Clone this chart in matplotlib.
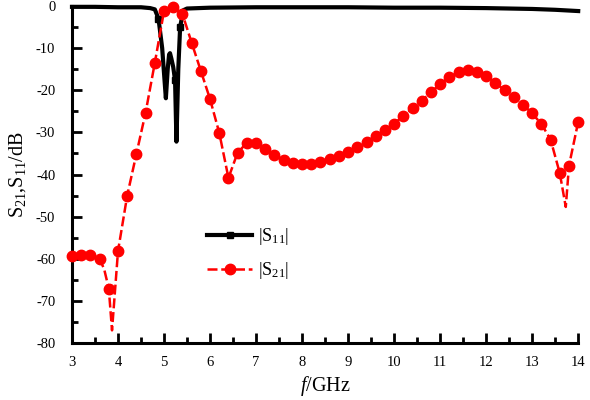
import matplotlib
matplotlib.use('Agg')
import matplotlib.pyplot as plt
from matplotlib.ticker import MultipleLocator

plt.rcParams['font.family'] = ['Liberation Serif', 'DejaVu Serif']
plt.rcParams['mathtext.fontset'] = 'custom'
plt.rcParams['mathtext.rm'] = 'Liberation Serif'
plt.rcParams['mathtext.it'] = 'Liberation Serif:italic'
plt.rcParams['axes.unicode_minus'] = False

# |S11| (black, squares)
s11_f = [3.0, 3.5, 4.0, 4.5, 4.7, 4.8, 4.88, 4.96, 5.04, 5.08, 5.11, 5.13, 5.16, 5.2,
         5.24, 5.27, 5.31, 5.35, 5.42, 5.5, 6.0, 7.0, 8.0, 9.0, 10.0, 11.0, 12.0, 12.5,
         13.0, 13.5, 14.0]
s11_db = [-0.2, -0.2, -0.3, -0.3, -0.5, -0.8, -3.0, -10.0, -21.9, -15.0, -11.5, -11.2, -12.5, -14.5,
          -17.6, -32.2, -15.0, -5.0, -1.0, -0.6, -0.4, -0.3, -0.3, -0.3, -0.4, -0.4, -0.5, -0.6,
          -0.7, -0.9, -1.2]
s11_marks = [6, 14, 17]

# |S21| (red, circles)
s21_f = [3.0, 3.2, 3.4, 3.6, 3.7, 3.8, 3.87, 4.0, 4.2, 4.4, 4.6, 4.8, 5.0, 5.2, 5.4, 5.6,
         5.8, 6.0, 6.2, 6.4, 6.6, 6.8, 7.0, 7.2, 7.4, 7.6, 7.8, 8.0, 8.2, 8.4, 8.6, 8.8,
         9.0, 9.2, 9.4, 9.6, 9.8, 10.0, 10.2, 10.4, 10.6, 10.8, 11.0, 11.2, 11.4, 11.6,
         11.8, 12.0, 12.2, 12.4, 12.6, 12.8, 13.0, 13.2, 13.4, 13.6, 13.73, 13.8, 14.0]
s21_db = [-59.4, -59.2, -59.1, -60.0, -62.5, -67.1, -77.0, -58.2, -45.0, -35.1, -25.3, -13.5,
          -1.2, -0.3, -1.9, -8.7, -15.4, -22.1, -30.1, -40.8, -34.8, -32.5, -32.6, -34.0,
          -35.4, -36.6, -37.3, -37.6, -37.5, -37.0, -36.4, -35.5, -34.6, -33.4, -32.2,
          -30.9, -29.5, -27.9, -26.1, -24.3, -22.5, -20.5, -18.5, -16.9, -15.7, -15.3,
          -15.7, -16.6, -18.2, -20.0, -21.6, -23.4, -25.5, -28.0, -31.7, -39.7, -47.7,
          -37.9, -27.5]
s21_no_mark = [3.7, 3.87, 13.73]
s21_marks = [i for i, f in enumerate(s21_f) if f not in s21_no_mark]

fig = plt.figure(figsize=(5.9, 4.0), dpi=100)
ax = fig.add_axes([0.122, 0.1425, 0.858, 0.8425])

ax.plot(s11_f, s11_db, color='black', lw=3.0, marker='s', markersize=5,
        markevery=s11_marks, clip_on=False, zorder=3, label='|S$_{11}$|')
ax.plot(s21_f, s21_db, color='red', lw=1.8, linestyle=(0, (4, 1.5)), marker='o',
        markersize=7.5, markevery=s21_marks, clip_on=False, zorder=4, label='|S$_{21}$|')

ax.set_xlim(3, 14)
ax.set_ylim(-80, 0)
ax.xaxis.set_major_locator(MultipleLocator(1))
ax.xaxis.set_minor_locator(MultipleLocator(0.5))
ax.yaxis.set_major_locator(MultipleLocator(10))
ax.yaxis.set_minor_locator(MultipleLocator(5))

ax.spines['top'].set_visible(False)
ax.spines['right'].set_visible(False)
ax.spines['left'].set_linewidth(2.2)
ax.spines['bottom'].set_linewidth(2.2)
ax.tick_params(which='major', direction='in', length=7, width=2, labelsize=10.5)
ax.tick_params(axis='x', which='major', pad=9)
ax.tick_params(axis='y', which='major', pad=12)
ax.tick_params(which='minor', direction='in', length=4, width=2)
ax.tick_params(axis='y', which='both', right=False)
ax.tick_params(axis='x', which='both', top=False)

ax.set_xlabel('$f$/GHz', fontsize=14.5, labelpad=4)
ax.set_ylabel('S$_{21}$,S$_{11}$/dB', fontsize=14.5, labelpad=6)

ax.legend(loc='center left', bbox_to_anchor=(0.235, 0.265), frameon=False, fontsize=13,
          handlelength=2.5, labelspacing=0.7, handletextpad=0.3)

fig.savefig('out.png', dpi=100)
